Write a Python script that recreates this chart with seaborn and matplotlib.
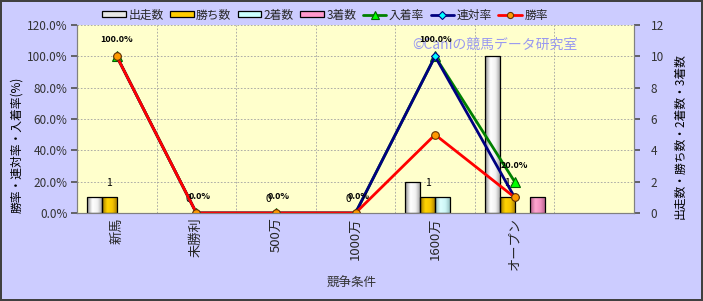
import numpy as np
import pandas as pd
import matplotlib
matplotlib.use("Agg")
import matplotlib.pyplot as plt
import seaborn as sns
from matplotlib.lines import Line2D
from matplotlib.patches import Patch
from matplotlib.colors import LinearSegmentedColormap
from matplotlib.ticker import PercentFormatter, FixedLocator

# ---------------- data ----------------
categories = ["新馬", "未勝利", "500万", "1000万", "1600万", "オープン"]
starts = [1, 0, 0, 0, 2, 10]          # 出走数
wins = [1, 0, 0, 0, 1, 1]             # 勝ち数
seconds = [0, 0, 0, 0, 1, 0]          # 2着数
thirds = [0, 0, 0, 0, 0, 1]           # 3着数
place_rate = [100, 0, 0, 0, 100, 20]  # 入着率 (%)
quinella_rate = [100, 0, 0, 0, 100, 10]  # 連対率 (%)
win_rate = [100, 0, 0, 0, 50, 10]     # 勝率 (%)

count_names = ["出走数", "勝ち数", "2着数", "3着数"]
rate_names = ["入着率", "連対率", "勝率"]

# ---------------- style ----------------
sns.set_theme(style="white")
plt.rcParams["font.family"] = ["Noto Sans CJK JP", "DejaVu Sans"]

BG = "#CCCCFF"
PLOT_BG = "#FFFFCC"
bar_grad = {
    "出走数": ["#8C8C8C", "#FFFFFF", "#F2F2F2", "#9A9A9A"],
    "勝ち数": ["#A07800", "#FFD400", "#F5C400", "#A07800"],
    "2着数": ["#8CB8B8", "#DDFFFF", "#CCF5F5", "#8CB8B8"],
    "3着数": ["#B05C86", "#FFA6D0", "#F090C0", "#B05C86"],
}
bar_mid = {"出走数": "#E6E6E6", "勝ち数": "#FFCC00", "2着数": "#CCFFFF", "3着数": "#FF99CC"}
line_style = {
    "入着率": dict(color="#008000", marker="^", mfc="#00FF00", mec="#006000", ms=6.5),
    "連対率": dict(color="#000080", marker="D", mfc="#00FFFF", mec="#000080", ms=4.5),
    "勝率": dict(color="#FF0000", marker="o", mfc="#FF9900", mec="#663300", ms=5.5),
}

W, H = 703, 301
fig = plt.figure(figsize=(W / 100, H / 100), dpi=100, facecolor=BG,
                 edgecolor="#404040", linewidth=1.5)

ax2 = fig.add_axes([77 / W, 1 - 213 / H, (634 - 77) / W, (213 - 25) / H])
ax = ax2.twinx()
ax.yaxis.set_label_position("left")
ax.yaxis.tick_left()
ax2.yaxis.tick_right()

# ---------------- bars (right axis) ----------------
n = len(categories)
df_counts = pd.DataFrame({
    "cat": np.repeat(categories, 4),
    "series": count_names * n,
    "value": np.ravel(np.column_stack([starts, wins, seconds, thirds])),
})
sns.barplot(data=df_counts, x="cat", y="value", hue="series", order=categories,
            hue_order=count_names, width=0.755, ax=ax2, legend=False,
            palette=[bar_mid[s] for s in count_names], saturation=1.0,
            edgecolor="black", linewidth=0.9)

ax2.set_facecolor(PLOT_BG)

# gradient fill for bars
for cont, name in zip(ax2.containers, count_names):
    cmap = LinearSegmentedColormap.from_list(name, bar_grad[name])
    grad = np.linspace(0, 1, 64).reshape(1, -1)
    for bar in cont:
        h = bar.get_height()
        if h <= 0:
            bar.set_visible(False)
            continue
        x0 = bar.get_x()
        w = bar.get_width()
        im = ax2.imshow(grad, cmap=cmap, aspect="auto", extent=[x0, x0 + w, 0, h],
                        zorder=1.5, interpolation="bicubic")
        im.set_clip_path(bar)
        bar.set_facecolor("none")
        bar.set_zorder(2)
ax2.set_xlim(-0.5, n + 0.5)
ax2.set_ylim(0, 12)
ax2.set_yticks(np.arange(0, 13, 2))

# gridlines (dotted) on bar axis
ax2.set_axisbelow(True)
ax2.yaxis.grid(True, color="#A0A0A0", linestyle=(0, (2, 2)), linewidth=0.6)
ax2.xaxis.set_minor_locator(FixedLocator(np.arange(-0.5, n + 0.5, 1.0)))
ax2.xaxis.grid(True, which="minor", color="#A0A0A0", linestyle=(0, (2, 2)), linewidth=0.6)
ax2.xaxis.grid(False, which="major")

# win-count labels
win_cont = ax2.containers[1]
for bar, v in zip(win_cont, wins):
    ax2.annotate(f"{v}", (bar.get_x() + bar.get_width() / 2, v),
                 xytext=(0, 10), textcoords="offset points", ha="center",
                 va="center", fontsize=7.5, color="black", zorder=1.8)

# watermark
ax2.text(495 / W, 1 - 45 / H, "©Caniの競馬データ研究室", transform=fig.transFigure,
         ha="center", va="center", fontsize=10, color="#9999F0", zorder=1.2)

# ---------------- lines (left axis) ----------------
df_rates = pd.DataFrame({
    "x": np.tile(np.arange(n), 3),
    "rate": place_rate + quinella_rate + win_rate,
    "series": np.repeat(rate_names, n),
})
for name in rate_names:
    st = line_style[name]
    sub = df_rates[df_rates["series"] == name]
    sns.lineplot(data=sub, x="x", y="rate", ax=ax, color=st["color"], linewidth=2.0,
                 marker=st["marker"], markersize=st["ms"], markerfacecolor=st["mfc"],
                 markeredgecolor=st["mec"], markeredgewidth=0.8, legend=False)

ax.set_facecolor("none")
ax.patch.set_visible(False)
ax.set_zorder(ax2.get_zorder() + 1)
ax.set_ylim(0, 120)
ax.set_yticks(np.arange(0, 121, 20))
ax.yaxis.set_major_formatter(PercentFormatter(decimals=1))
ax.set_xlim(-0.5, n + 0.5)
ax.grid(False)

for i, v in enumerate(place_rate):
    ax.annotate(f"{v:.1f}%", (i, v), xytext=(2 if v == 0 else 0, 12),
                textcoords="offset points", ha="center", va="center",
                fontsize=6.5, fontweight="bold", color="black")

# ---------------- axes cosmetics ----------------
ax2.set_xticks(np.arange(n))
ax2.set_xticklabels(categories, rotation=90, fontsize=9.5, va="top", ha="center")
ax2.tick_params(axis="x", length=0, pad=3)
ax.tick_params(axis="x", which="both", length=0, labelbottom=False)
ax2.set_xlabel("")
ax2.set_ylabel("")
ax.set_xlabel("")
ax.set_ylabel("")
ax2.tick_params(axis="y", right=True, length=4, direction="out", labelsize=8.5,
                labelcolor="#333333", color="#555555", pad=8)
ax.tick_params(axis="y", left=True, length=4, direction="out", labelsize=8.5,
               labelcolor="#333333", color="#555555", pad=3)
for a in (ax, ax2):
    for s in a.spines.values():
        s.set_color("#808080")
        s.set_linewidth(0.8)
    a.spines["top"].set_visible(False)

fig.text(17 / W, 1 - 145 / H, "勝率・連対率・入着率(%)", rotation=90, ha="center",
         va="center", fontsize=8.5, color="black")
fig.text(680 / W, 1 - 136 / H, "出走数・勝ち数・2着数・3着数", rotation=90, ha="center",
         va="center", fontsize=8.5, color="black")
fig.text(352 / W, 1 - 283 / H, "競争条件", ha="center", va="center", fontsize=9,
         color="#333333")

# ---------------- legend ----------------
handles = [Patch(facecolor=bar_mid[s], edgecolor="black", linewidth=0.9) for s in count_names]
for name in rate_names:
    st = line_style[name]
    handles.append(Line2D([], [], color=st["color"], linewidth=2.0, marker=st["marker"],
                          markersize=st["ms"] * 0.8, markerfacecolor=st["mfc"],
                          markeredgecolor=st["mec"], markeredgewidth=0.8))
fig.legend(handles, count_names + rate_names, loc="center", ncol=7,
           bbox_to_anchor=(325 / W, 1 - 15 / H), frameon=False, fontsize=8.5,
           handlelength=2.0, handleheight=0.4, handletextpad=0.2, columnspacing=0.55,
           borderaxespad=0)

fig.savefig("out.png", dpi=100, facecolor=BG, edgecolor=fig.get_edgecolor())
